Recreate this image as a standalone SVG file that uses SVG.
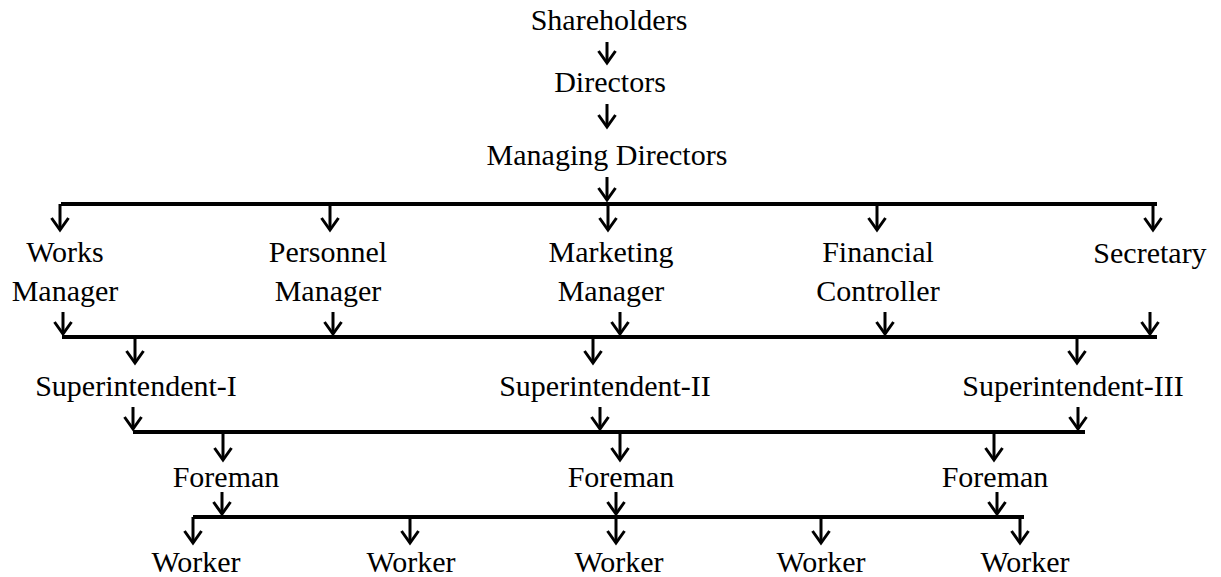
<svg xmlns="http://www.w3.org/2000/svg" width="1221" height="577" viewBox="0 0 1221 577">
  <style>
    text { font-family: 'Liberation Serif', 'DejaVu Serif', serif; font-size: 30px; fill: #000; text-anchor: middle; }
    .bar { stroke: #000; stroke-width: 4; fill: none; }
    .arr { stroke: #000; stroke-width: 3; fill: none; marker-end: url(#head); }
  </style>
  <defs>
    <marker id="head" markerUnits="userSpaceOnUse" orient="auto" markerWidth="30" markerHeight="30" refX="0" refY="0" viewBox="-15 -15 30 30" overflow="visible">
      <path d="M -12 -8.5 L 0 0 L -12 8.5" fill="none" stroke="#000" stroke-width="3"/>
    </marker>
  </defs>
  <rect width="1221" height="577" fill="#fff"/>

  <!-- Connectors -->
  <g id="connectors">
    <!-- top chain -->
    <line class="arr" x1="607" y1="42" x2="607" y2="63"/>
    <line class="arr" x1="607" y1="104" x2="607" y2="127"/>
    <line class="arr" x1="607" y1="177" x2="607" y2="200"/>
    <!-- first bar and its drops -->
    <line class="bar" x1="61" y1="204" x2="1157" y2="204"/>
    <line class="arr" x1="60" y1="204" x2="60" y2="230"/>
    <line class="arr" x1="330" y1="204" x2="330" y2="230"/>
    <line class="arr" x1="608" y1="204" x2="608" y2="230"/>
    <line class="arr" x1="877" y1="204" x2="877" y2="230"/>
    <line class="arr" x1="1153" y1="204" x2="1153" y2="230"/>
    <!-- managers into second bar -->
    <line class="arr" x1="63" y1="312" x2="63" y2="334"/>
    <line class="arr" x1="333" y1="312" x2="333" y2="334"/>
    <line class="arr" x1="620" y1="312" x2="620" y2="334"/>
    <line class="arr" x1="885" y1="312" x2="885" y2="334"/>
    <line class="arr" x1="1150" y1="312" x2="1150" y2="334"/>
    <line class="bar" x1="62" y1="337" x2="1157" y2="337"/>
    <!-- second bar to superintendents -->
    <line class="arr" x1="135" y1="337" x2="135" y2="363"/>
    <line class="arr" x1="593" y1="337" x2="593" y2="363"/>
    <line class="arr" x1="1077" y1="337" x2="1077" y2="363"/>
    <!-- superintendents into third bar -->
    <line class="arr" x1="133" y1="407" x2="133" y2="429"/>
    <line class="arr" x1="600" y1="407" x2="600" y2="429"/>
    <line class="arr" x1="1078" y1="407" x2="1078" y2="429"/>
    <line class="bar" x1="133" y1="432" x2="1085" y2="432"/>
    <!-- third bar to foremen -->
    <line class="arr" x1="223" y1="432" x2="223" y2="460"/>
    <line class="arr" x1="620" y1="432" x2="620" y2="460"/>
    <line class="arr" x1="994" y1="432" x2="994" y2="460"/>
    <!-- foremen into fourth bar -->
    <line class="arr" x1="222" y1="492" x2="222" y2="514"/>
    <line class="arr" x1="616" y1="492" x2="616" y2="514"/>
    <line class="arr" x1="997" y1="492" x2="997" y2="514"/>
    <line class="bar" x1="193" y1="517" x2="1024" y2="517"/>
    <!-- fourth bar to workers -->
    <line class="arr" x1="193" y1="517" x2="193" y2="543"/>
    <line class="arr" x1="410" y1="517" x2="410" y2="543"/>
    <line class="arr" x1="616" y1="517" x2="616" y2="543"/>
    <line class="arr" x1="821" y1="517" x2="821" y2="543"/>
    <line class="arr" x1="1020" y1="517" x2="1020" y2="543"/>
  </g>

  <!-- Nodes -->
  <g id="shareholders"><text x="609" y="30">Shareholders</text></g>
  <g id="directors"><text x="610" y="92">Directors</text></g>
  <g id="managing-directors"><text x="607" y="165">Managing Directors</text></g>

  <g id="works-manager">
    <text x="65" y="262">Works</text>
    <text x="65" y="301">Manager</text>
  </g>
  <g id="personnel-manager">
    <text x="328" y="262">Personnel</text>
    <text x="328" y="301">Manager</text>
  </g>
  <g id="marketing-manager">
    <text x="611" y="262">Marketing</text>
    <text x="611" y="301">Manager</text>
  </g>
  <g id="financial-controller">
    <text x="878" y="262">Financial</text>
    <text x="878" y="301">Controller</text>
  </g>
  <g id="secretary"><text x="1150" y="263">Secretary</text></g>

  <g id="superintendent-1"><text x="136" y="396">Superintendent-I</text></g>
  <g id="superintendent-2"><text x="605" y="396">Superintendent-II</text></g>
  <g id="superintendent-3"><text x="1073" y="396">Superintendent-III</text></g>

  <g id="foreman-1"><text x="226" y="487">Foreman</text></g>
  <g id="foreman-2"><text x="621" y="487">Foreman</text></g>
  <g id="foreman-3"><text x="995" y="487">Foreman</text></g>

  <g id="worker-1"><text x="196" y="572">Worker</text></g>
  <g id="worker-2"><text x="411" y="572">Worker</text></g>
  <g id="worker-3"><text x="619" y="572">Worker</text></g>
  <g id="worker-4"><text x="821" y="572">Worker</text></g>
  <g id="worker-5"><text x="1025" y="572">Worker</text></g>
</svg>
